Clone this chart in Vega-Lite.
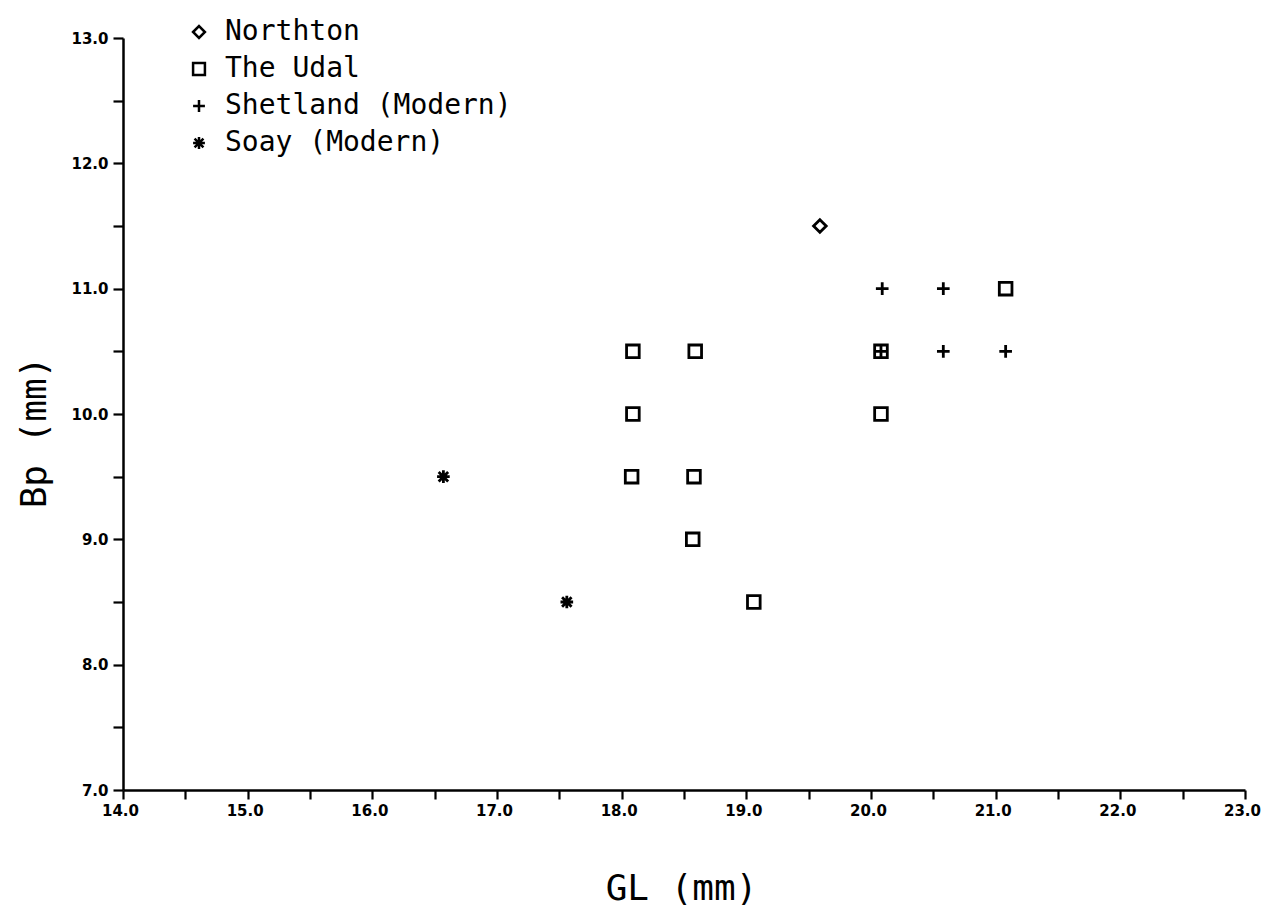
{
  "$schema": "https://vega.github.io/schema/vega-lite/v6.json",
  "autosize": "none",
  "width": 1122,
  "height": 752,
  "padding": {"left": 123, "top": 38, "right": 18, "bottom": 120},
  "background": "white",
  "config": {
    "view": {"stroke": null},
    "font": "DejaVu Sans"
  },
  "data": {
    "values": [
      {"group": "Northton", "GL": 19.59, "Bp": 11.5},
      {"group": "The Udal", "GL": 18.09, "Bp": 10.5},
      {"group": "The Udal", "GL": 18.59, "Bp": 10.5},
      {"group": "The Udal", "GL": 18.09, "Bp": 10.0},
      {"group": "The Udal", "GL": 18.08, "Bp": 9.5},
      {"group": "The Udal", "GL": 18.58, "Bp": 9.5},
      {"group": "The Udal", "GL": 18.57, "Bp": 9.0},
      {"group": "The Udal", "GL": 19.06, "Bp": 8.5},
      {"group": "The Udal", "GL": 20.08, "Bp": 10.5},
      {"group": "The Udal", "GL": 20.08, "Bp": 10.0},
      {"group": "The Udal", "GL": 21.08, "Bp": 11.0},
      {"group": "Shetland (Modern)", "GL": 20.09, "Bp": 11.0},
      {"group": "Shetland (Modern)", "GL": 20.58, "Bp": 11.0},
      {"group": "Shetland (Modern)", "GL": 20.08, "Bp": 10.5},
      {"group": "Shetland (Modern)", "GL": 20.58, "Bp": 10.5},
      {"group": "Shetland (Modern)", "GL": 21.08, "Bp": 10.5},
      {"group": "Soay (Modern)", "GL": 16.57, "Bp": 9.5},
      {"group": "Soay (Modern)", "GL": 17.56, "Bp": 8.5}
    ]
  },
  "mark": {"type": "point", "filled": false, "stroke": "black", "strokeWidth": 2.8, "size": 160, "opacity": 1},
  "encoding": {
    "x": {
      "field": "GL", "type": "quantitative",
      "scale": {"domain": [14, 23], "nice": false, "zero": false},
      "axis": {
        "title": "GL (mm)",
        "values": [14, 14.5, 15, 15.5, 16, 16.5, 17, 17.5, 18, 18.5, 19, 19.5, 20, 20.5, 21, 21.5, 22, 22.5, 23],
        "labelExpr": "datum.value % 1 == 0 ? format(datum.value, '.1f') : ''",
        "grid": false,
        "domainColor": "black", "domainWidth": 2.5,
        "tickColor": "black", "tickWidth": 2.2, "tickSize": 9,
        "labelColor": "black", "labelFont": "DejaVu Sans", "labelFontWeight": "bold", "labelFontSize": 15, "labelPadding": 4, "labelOffset": -3,
        "labelFlush": false, "labelOverlap": false,
        "titleFont": "DejaVu Sans Mono", "titleFontSize": 36, "titleFontWeight": "normal", "titleColor": "black",
        "titleX": 558, "titleY": 98, "titleAlign": "center", "titleBaseline": "middle"
      }
    },
    "y": {
      "field": "Bp", "type": "quantitative",
      "scale": {"domain": [7, 13], "nice": false, "zero": false},
      "axis": {
        "title": "Bp (mm)",
        "values": [7, 7.5, 8, 8.5, 9, 9.5, 10, 10.5, 11, 11.5, 12, 12.5, 13],
        "labelExpr": "datum.value % 1 == 0 ? format(datum.value, '.1f') : ''",
        "grid": false,
        "domainColor": "black", "domainWidth": 2.5,
        "tickColor": "black", "tickWidth": 2.2, "tickSize": 10,
        "labelColor": "black", "labelFont": "DejaVu Sans", "labelFontWeight": "bold", "labelFontSize": 15, "labelPadding": 5,
        "labelFlush": false, "labelOverlap": false,
        "titleFont": "DejaVu Sans Mono", "titleFontSize": 36, "titleFontWeight": "normal", "titleColor": "black",
        "titleX": -89, "titleY": 394, "titleAngle": -90, "titleAlign": "center", "titleBaseline": "middle"
      }
    },
    "shape": {
      "field": "group", "type": "nominal",
      "scale": {
        "domain": ["Northton", "The Udal", "Shetland (Modern)", "Soay (Modern)"],
        "range": ["diamond", "square", "M-1,0H1M0,-1V1", "M-1,0H1M0,-1V1M-0.75,-0.75L0.75,0.75M-0.75,0.75L0.75,-0.75"]
      },
      "legend": {
        "title": null,
        "orient": "none",
        "legendX": 62,
        "legendY": -20,
        "rowPadding": 9,
        "symbolSize": 140,
        "symbolStrokeColor": "black",
        "symbolStrokeWidth": 2.5,
        "symbolFillColor": "transparent",
        "labelFont": "DejaVu Sans Mono",
        "labelFontSize": 28,
        "labelColor": "black",
        "labelOffset": 12,
        "labelLimit": 500
      }
    }
  }
}
